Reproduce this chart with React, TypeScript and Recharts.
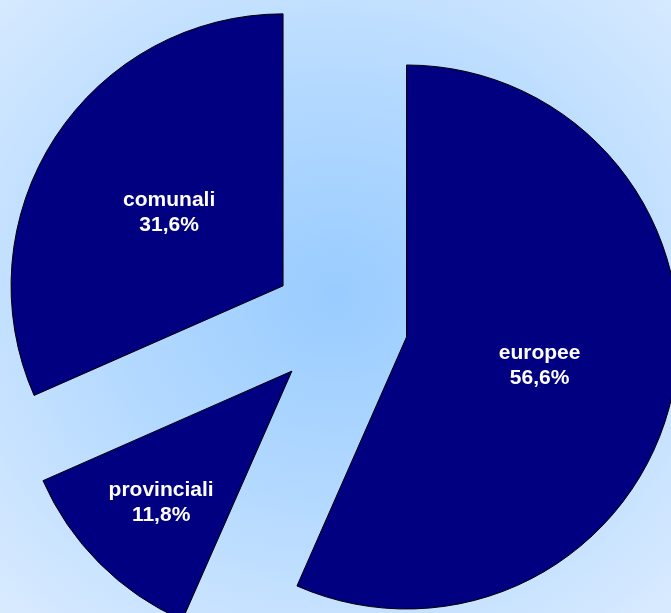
import { PieChart, Pie, Sector } from 'recharts';

const categories = ['europee', 'provinciali', 'comunali'];
const shares = [56.6, 11.8, 31.6];
const shareLabels = ['56,6%', '11,8%', '31,6%'];

const data = categories.map((name, i) => ({ name, value: shares[i], label: shareLabels[i] }));

const RADIAN = Math.PI / 180;
const EXPLODE = 68;

function renderSlice(props: any) {
  const { cx, cy, midAngle, outerRadius, startAngle, endAngle, percent, index } = props;
  const dx = EXPLODE * Math.cos(-midAngle * RADIAN);
  const dy = EXPLODE * Math.sin(-midAngle * RADIAN);
  const ox = cx + dx;
  const oy = cy + dy;
  const lr = outerRadius * (percent < 0.2 ? 0.68 : 0.5);
  const tx = ox + lr * Math.cos(-midAngle * RADIAN);
  const ty = oy + lr * Math.sin(-midAngle * RADIAN);
  return (
    <g key={`slice-${index}`}>
      <Sector
        cx={ox}
        cy={oy}
        innerRadius={0}
        outerRadius={outerRadius}
        startAngle={startAngle}
        endAngle={endAngle}
        fill="#000080"
        stroke="#000000"
        strokeWidth={1}
      />
      <text
        x={tx}
        y={ty}
        textAnchor="middle"
        fill="#ffffff"
        fontFamily="'Liberation Sans', Arial, sans-serif"
        fontWeight="bold"
        fontSize={21}
      >
        <tspan x={tx} dy={-6}>{data[index].name}</tspan>
        <tspan x={tx} dy={25}>{data[index].label}</tspan>
      </text>
    </g>
  );
}

export default function App() {
  return (
    <div
      style={{
        position: 'fixed',
        left: 0,
        top: 0,
        width: 671,
        height: 613,
        background: 'radial-gradient(ellipse 75% 75% at 50% 48%, #99ccff 0%, #b4d9ff 45%, #dcecff 100%)',
      }}
    >
      <PieChart width={671} height={613} margin={{ top: 0, right: 0, bottom: 0, left: 0 }}>
        <Pie
          data={data}
          dataKey="value"
          nameKey="name"
          cx={340}
          cy={323}
          innerRadius={0}
          outerRadius={272}
          startAngle={90}
          endAngle={-270}
          fill="transparent"
          stroke="none"
          labelLine={false}
          label={renderSlice}
          isAnimationActive={false}
        />
      </PieChart>
    </div>
  );
}
